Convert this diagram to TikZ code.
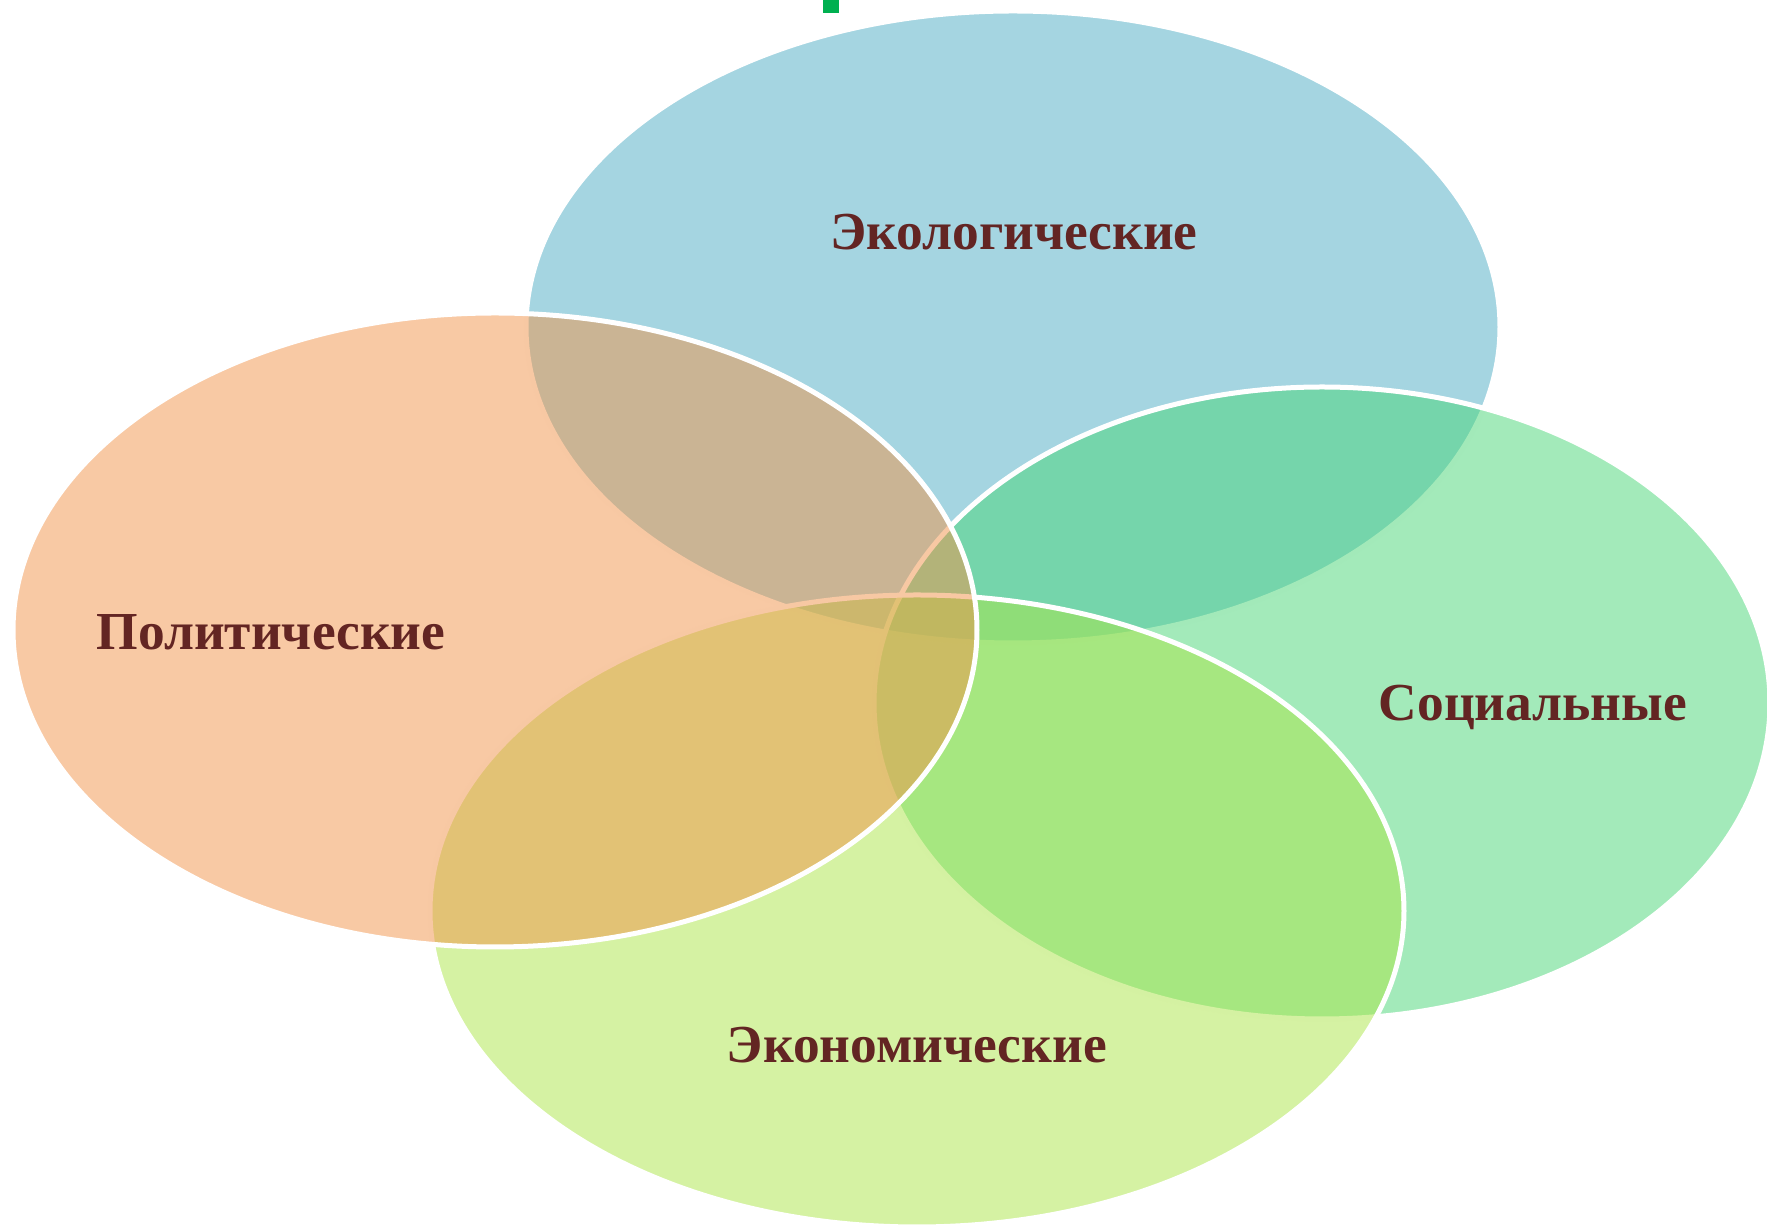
\documentclass[tikz,border=0pt]{standalone}
\usepackage{fontspec}
\setmainfont{Liberation Serif}
\usetikzlibrary{shapes.geometric}
\definecolor{ecoblue}{RGB}{75,171,195}
\definecolor{polorange}{RGB}{241,147,73}
\definecolor{socgreen}{RGB}{71,213,117}
\definecolor{econgreen}{RGB}{171,229,71}
\definecolor{labelred}{RGB}{99,37,35}
\definecolor{markgreen}{RGB}{0,176,80}
\begin{document}
\begin{tikzpicture}[x=0.1mm, y=-0.1mm,
    bubble/.style = {ellipse, draw=white, line width=0.5mm, fill opacity=0.5, inner sep=0, outer sep=0,
                     minimum width=97.4mm, minimum height=63.2mm},
    areatext/.style = {anchor=base, inner sep=0, text=labelred, font=\fontsize{15.2}{18}\selectfont\bfseries}]
    \useasboundingbox (0,0) rectangle (1767,1227);
    \fill[markgreen] (823,0) rectangle (839,13);

    \node[bubble, fill=ecoblue] (eco) at (1013,327) {};
    \node[bubble, fill=socgreen, minimum width=89.6mm] (soc) at (1322,703) {};
    \node[bubble, fill=econgreen] (econ) at (917,911) {};
    \node[bubble, fill=polorange, minimum width=96.4mm, minimum height=63.4mm] (pol) at (495,630) {};

    \node[areatext] (ecotext) at (1014,250) {Экологические};
    \node[areatext] (poltext) at (271,650) {Политические};
    \node[areatext] (soctext) at (1533,721) {Социальные};
    \node[areatext] (econtext) at (917,1063) {Экономические};
\end{tikzpicture}
\end{document}
